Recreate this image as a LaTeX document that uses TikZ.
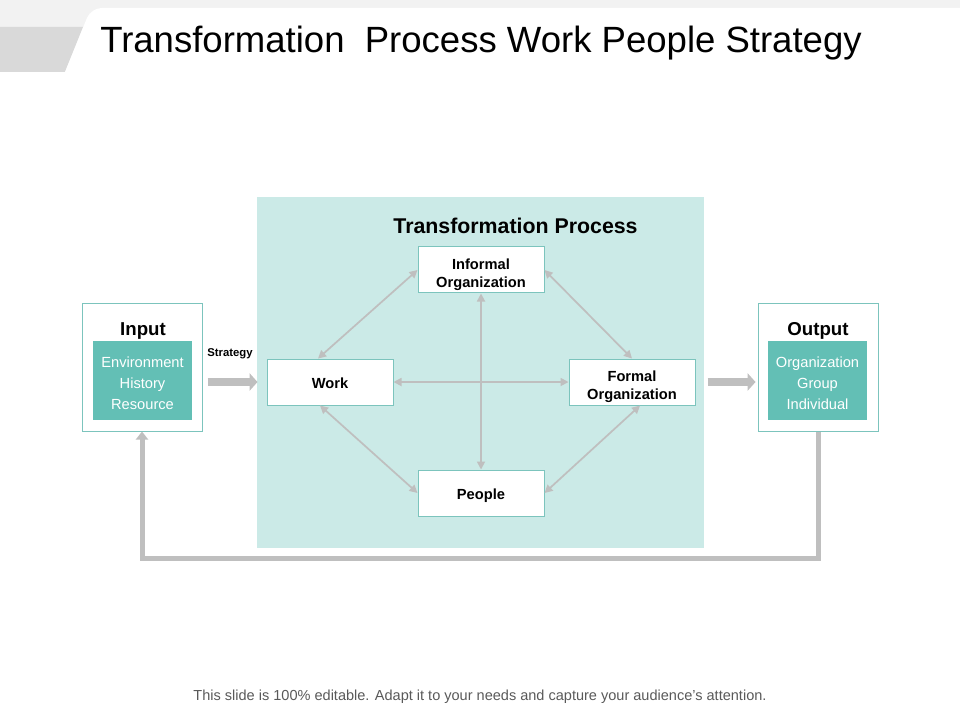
\documentclass[tikz,border=0pt]{standalone}
\usepackage{fontspec}
\setmainfont{Liberation Sans}
\usetikzlibrary{arrows.meta,calc}
\definecolor{PanelClr}{HTML}{CBEAE7}
\definecolor{EdgeClr}{HTML}{7CC4BD}
\definecolor{TealClr}{HTML}{63BFB5}
\definecolor{ArrowClr}{HTML}{BFBFBF}
\definecolor{NoteClr}{HTML}{595959}
\definecolor{BandClr}{HTML}{F2F2F2}
\definecolor{TabClr}{HTML}{D9D9D9}

\begin{document}
\begin{tikzpicture}[x=1pt,y=-1pt,scale=.75,
  box/.style={draw=EdgeClr,line width=.75pt,fill=white,inner sep=0pt,
    minimum width=94.5pt,minimum height=34.5pt,align=center,
    text height=12pt,text depth=3pt,
    font=\fontsize{11}{13.5}\selectfont\bfseries},
  twoline/.style={text height=28.9pt,text depth=3pt},
  holder/.style={draw=EdgeClr,line width=.75pt,fill=white,inner sep=0pt,
    minimum width=90pt,minimum height=95.25pt},
  inner/.style={fill=TealClr,text=white,inner sep=0pt,align=center,
    minimum width=74.25pt,minimum height=59.25pt,
    text height=45.8pt,text depth=3pt,
    font=\fontsize{11}{15.75}\selectfont},
  head/.style={anchor=base,font=\fontsize{14}{16}\selectfont\bfseries},
  link/.style={draw=ArrowClr,line width=1.3pt,
    {Triangle[length=6pt,width=6pt]}-{Triangle[length=6pt,width=6pt]}},
  bigarrow/.style={draw=ArrowClr,line width=6pt,-{Triangle[length=6pt,width=13pt]}},
  feedback/.style={draw=ArrowClr,line width=3.75pt,-{Triangle[length=6pt,width=9pt]}}]
\useasboundingbox (0,0) rectangle (960,720);

% header
\fill[BandClr] (0,0) rectangle (960,72);
\fill[TabClr] (0,27) -- (83,27) -- (65,72) -- (0,72) -- cycle;
\fill[white] (65,72) [rounded corners=8pt] -- (91,8) [sharp corners] -- (960,8) -- (960,72) -- cycle;
\node[anchor=base,font=\fontsize{27.4}{30}\selectfont] (title) at (481,53)
  {Transformation\ \ Process Work People Strategy};

% panel
\fill[PanelClr] (257,197) rectangle (704,548);
\node[anchor=base,font=\fontsize{16}{18}\selectfont\bfseries] (panel) at (515.5,233.5)
  {Transformation Process};

\node[box,twoline] (infl) at (481,270) {Informal\\Organization};
\node[box] (work) at (330,382) {Work};
\node[box,twoline] (formal) at (632,382) {Formal\\Organization};
\node[box] (people) at (481,493) {People};

% input / output
\node[holder] (input) at (142,367.5) {};
\node[inner] (inlist) at (142.5,380.5) {Environment\\History\\Resource};
\node[head] (intitle) at (143,335) {Input};
\node[holder] (output) at (818,367.5) {};
\node[inner] (outlist) at (817.5,380.5) {Organization\\Group\\Individual};
\node[head] (outtitle) at (818,335) {Output};
\node[anchor=base,font=\fontsize{8.5}{10}\selectfont\bfseries] (strategy) at (230,356) {Strategy};

\draw[link] (infl.south) -- (people.north);
\draw[link] (work.east) -- (formal.west);
\draw[link] ($(work.north)+(-12,0)$) -- (infl.west);
\draw[link] (infl.east) -- (formal.north);
\draw[link] ($(work.south)+(-10,0)$) -- (people.west);
\draw[link] (people.east) -- ($(formal.south)+(8,0)$);

\draw[bigarrow,shorten <=3.75pt,shorten >=6.75pt] (input.east |- work.west) -- (work.west);
\draw[bigarrow,shorten <=9pt,shorten >=1.5pt] (formal.east) -- (output.west |- formal.east);
\draw[feedback] (output.south) -- ++(0,127) -| (input.south);

\node[anchor=base,text=NoteClr,font=\fontsize{10.9}{13}\selectfont] (note) at (480,700)
  {This slide is 100\% editable. Adapt it to your needs and capture your audience's attention.};
\end{tikzpicture}
\end{document}
